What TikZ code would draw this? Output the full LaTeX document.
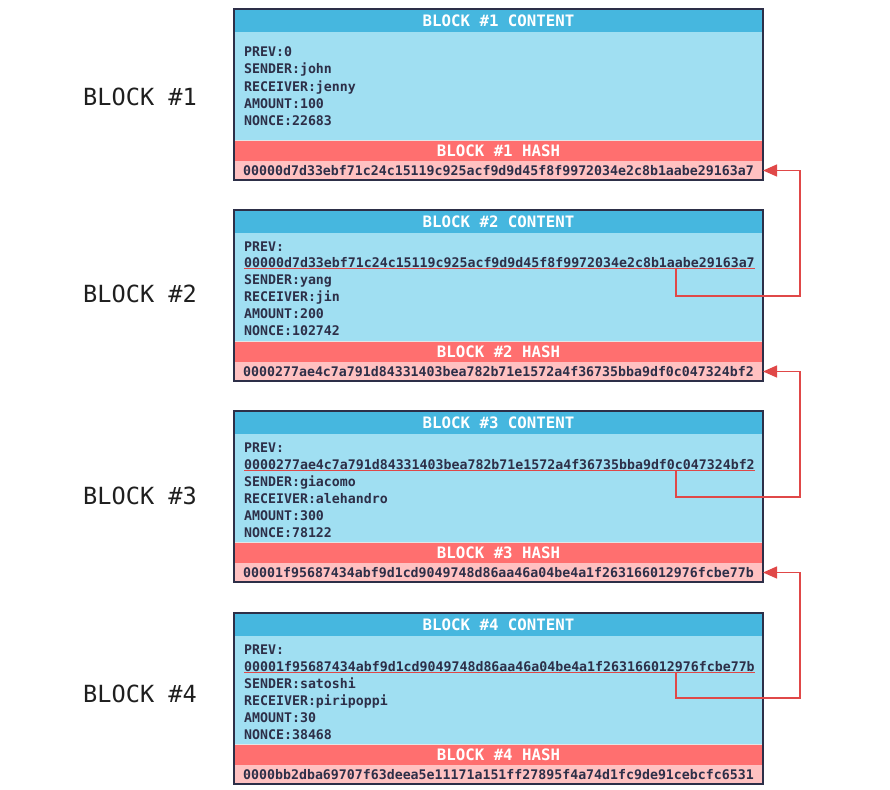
\documentclass[tikz,border=0pt]{standalone}
\usepackage{fontspec}
\setmonofont{DejaVu Sans Mono}
\usetikzlibrary{arrows.meta}
\definecolor{hdrblue}{HTML}{46B7DF}
\definecolor{bodyblue}{HTML}{A0DFF2}
\definecolor{hashred}{HTML}{FF6F6F}
\definecolor{hashpink}{HTML}{FFC1C1}
\definecolor{ink}{HTML}{2D2F48}
\definecolor{linkred}{HTML}{E04848}
\newcommand{\bodyfont}{\ttfamily\bfseries\fontsize{13.3}{14}\selectfont}
\newcommand{\headfont}{\ttfamily\bfseries\fontsize{15.8}{16}\selectfont}
\tikzset{
  area/.style={minimum width=529bp, inner sep=0, outer sep=0, anchor=north west},
  hdr/.style={area, fill=hdrblue, minimum height=23bp, text=white, font=\headfont},
  bodyarea/.style={area, fill=bodyblue, minimum height=108bp},
  hhdr/.style={area, fill=hashred, minimum height=21bp, text=white, font=\headfont},
  hval/.style={area, fill=hashpink, minimum height=19bp, text=ink, font=\bodyfont},
  frame/.style={draw=ink, line width=2bp, minimum width=529bp, minimum height=171bp, anchor=north west, inner sep=0, outer sep=0},
  txt/.style={anchor=base west, inner sep=0, text=ink, font=\bodyfont},
  side/.style={anchor=west, inner sep=0, font=\ttfamily\fontsize{23.7}{24}\selectfont, text=black!88},
  link/.style={draw=linkred, line width=1.4bp, -{Triangle[length=14bp,width=12bp]}},
  uline/.style={draw=linkred, line width=1bp},
  sep/.style={draw=white!80!gray, line width=0.8bp},
}
\newcommand{\chainblock}[3]{%
  \node[hdr] (hd#1) at (234,#2) {BLOCK \##1 CONTENT};
  \node[bodyarea] (bd#1) at (234,#2+23) {};
  \node[hhdr] (hh#1) at (234,#2+131) {BLOCK \##1 HASH};
  \node[hval] (hv#1) at (234,#2+152) {#3};
  \draw[sep] (bd#1.south west) -- (bd#1.south east);
  \node[frame] (fr#1) at (234,#2) {};
}
\begin{document}
\begin{tikzpicture}[x=1bp,y=-1bp]
\useasboundingbox (0,0) rectangle (890,790);

% blocks
\chainblock{1}{9}{00000d7d33ebf71c24c15119c925acf9d9d45f8f9972034e2c8b1aabe29163a7}
\chainblock{2}{210}{0000277ae4c7a791d84331403bea782b71e1572a4f36735bba9df0c047324bf2}
\chainblock{3}{411}{00001f95687434abf9d1cd9049748d86aa46a04be4a1f263166012976fcbe77b}
\chainblock{4}{613}{0000bb2dba69707f63deea5e11171a151ff27895f4a74d1fc9de91cebcfc6531}

% side labels
\node[side] (lb1) at (83,97) {BLOCK \#1};
\node[side] (lb2) at (83,294) {BLOCK \#2};
\node[side] (lb3) at (83,496) {BLOCK \#3};
\node[side] (lb4) at (83,694) {BLOCK \#4};

% block 1 content
\node[txt] (a1) at (244,57) {PREV:0};
\node[txt] (b1) at (244,74) {SENDER:john};
\node[txt] (c1) at (244,91) {RECEIVER:jenny};
\node[txt] (d1) at (244,108) {AMOUNT:100};
\node[txt] (e1) at (244,125) {NONCE:22683};

% block 2 content
\node[txt] (a2) at (244,251) {PREV:};
\node[txt] (p2) at (244,267) {00000d7d33ebf71c24c15119c925acf9d9d45f8f9972034e2c8b1aabe29163a7};
\node[txt] (b2) at (244,284) {SENDER:yang};
\node[txt] (c2) at (244,301) {RECEIVER:jin};
\node[txt] (d2) at (244,318) {AMOUNT:200};
\node[txt] (e2) at (244,335) {NONCE:102742};

% block 3 content
\node[txt] (a3) at (244,452) {PREV:};
\node[txt] (p3) at (244,469) {0000277ae4c7a791d84331403bea782b71e1572a4f36735bba9df0c047324bf2};
\node[txt] (b3) at (244,486) {SENDER:giacomo};
\node[txt] (c3) at (244,503) {RECEIVER:alehandro};
\node[txt] (d3) at (244,520) {AMOUNT:300};
\node[txt] (e3) at (244,537) {NONCE:78122};

% block 4 content
\node[txt] (a4) at (244,654) {PREV:};
\node[txt] (p4) at (244,671) {00001f95687434abf9d1cd9049748d86aa46a04be4a1f263166012976fcbe77b};
\node[txt] (b4) at (244,688) {SENDER:satoshi};
\node[txt] (c4) at (244,705) {RECEIVER:piripoppi};
\node[txt] (d4) at (244,722) {AMOUNT:30};
\node[txt] (e4) at (244,739) {NONCE:38468};

% underlines
\foreach \k in {2,3,4}{
  \draw[uline] ([yshift=-1.8bp]p\k.base west) -- ([yshift=-1.8bp]p\k.base east);
}

% connectors
\coordinate (s2) at (676,268.8);
\coordinate (t2) at (800,296);
\coordinate (s3) at (676,470.8);
\coordinate (t3) at (800,497);
\coordinate (s4) at (676,672.8);
\coordinate (t4) at (800,698);
\draw[link] (s2) |- (t2) |- (hv1.east);
\draw[link] (s3) |- (t3) |- (hv2.east);
\draw[link] (s4) |- (t4) |- (hv3.east);
\end{tikzpicture}
\end{document}
